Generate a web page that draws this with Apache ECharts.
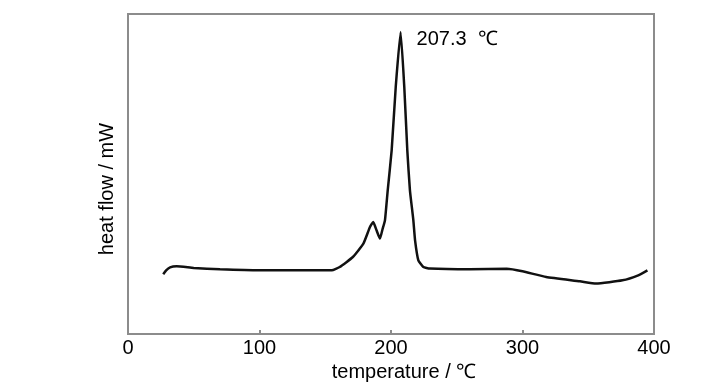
<!DOCTYPE html>
<html lang="en">
<head>
    <meta charset="UTF-8" />
    <title>DSC</title>
    <style>
        html, body { margin: 0; padding: 0; background: #fff; }
        #container { width: 728px; height: 390px; }
    </style>
</head>
<body>
    <div id="container"></div>
    <script src="https://cdn.jsdelivr.net/npm/echarts@6/dist/echarts.min.js"></script>
    <script type="text/javascript">
        // temperature (℃) and heat flow (arbitrary units)
        var temps = [26.8, 29, 32, 37, 50, 70, 100, 130, 155, 161, 171, 179, 184, 186.5, 189, 191.6, 193.5, 195.4, 197.5,
            200.5, 203.6, 207.3, 210.1, 212.4, 214.4, 217, 218.3, 220.8, 224.6, 229.6, 260, 288, 300, 318, 343.7, 356, 376, 388, 395];
        var flow = [59.7, 63.7, 66.7, 67.7, 66, 64.7, 63.7, 63.7, 63.7, 67, 77, 90.4, 107, 112, 103.7, 95.4, 104.5, 113.7, 143.7,
            183.7, 247, 302, 247, 183.7, 143.7, 113.7, 93.7, 73.7, 67, 65.4, 64.7, 65.2, 62.7, 57, 52.7, 50.4, 53.7, 58.7, 63.7];
        var peakT = 207.3;
        var peakLabel = '207.3  ℃';

        var pts = [];
        for (let i = 0; i < temps.length; i++) {
            pts.push([temps[i], flow[i]]);
        }

        var font = '"Liberation Sans", Arial, sans-serif';
        var myChart = echarts.init(document.getElementById('container'));
        var option = {
            animation: false,
            grid: {
                left: 128, right: 74, top: 14, bottom: 56,
                show: true, borderColor: '#8c8c8c', borderWidth: 2
            },
            xAxis: {
                type: 'value',
                min: 0, max: 400, interval: 100,
                name: 'temperature / ℃',
                nameLocation: 'middle',
                nameGap: 22,
                // label sits a bit right of the axis centre in the original
                nameTextStyle: { fontFamily: font, fontSize: 20, color: '#000', padding: [0, 0, 0, 26] },
                axisLine: { lineStyle: { color: '#8c8c8c', width: 2 } },
                axisTick: { inside: true, length: 4, lineStyle: { color: '#8c8c8c', width: 2 } },
                axisLabel: { fontFamily: font, fontSize: 20, color: '#000', margin: 4 },
                splitLine: { show: false }
            },
            yAxis: {
                type: 'value',
                min: 0, max: 320,
                name: 'heat flow / mW',
                nameLocation: 'middle',
                nameGap: 11,
                nameTextStyle: { fontFamily: font, fontSize: 20, color: '#000', padding: [0, 30, 0, 0] },
                axisLine: { show: true, lineStyle: { color: '#8c8c8c', width: 2 } },
                axisTick: { show: false },
                axisLabel: { show: false },
                splitLine: { show: false }
            },
            series: [{
                type: 'line',
                data: pts,
                smooth: 0.15,
                symbol: 'none',
                lineStyle: { color: '#111', width: 2.5 },
                markPoint: {
                    symbol: 'circle',
                    symbolSize: 0,
                    data: [{ coord: [peakT, flow[temps.indexOf(peakT)]] }],
                    label: {
                        show: true,
                        formatter: peakLabel,
                        position: 'right',
                        offset: [11, 7],
                        fontFamily: font,
                        fontSize: 20,
                        color: '#000'
                    }
                }
            }]
        };
        myChart.setOption(option, true);
    </script>
</body>
</html>
